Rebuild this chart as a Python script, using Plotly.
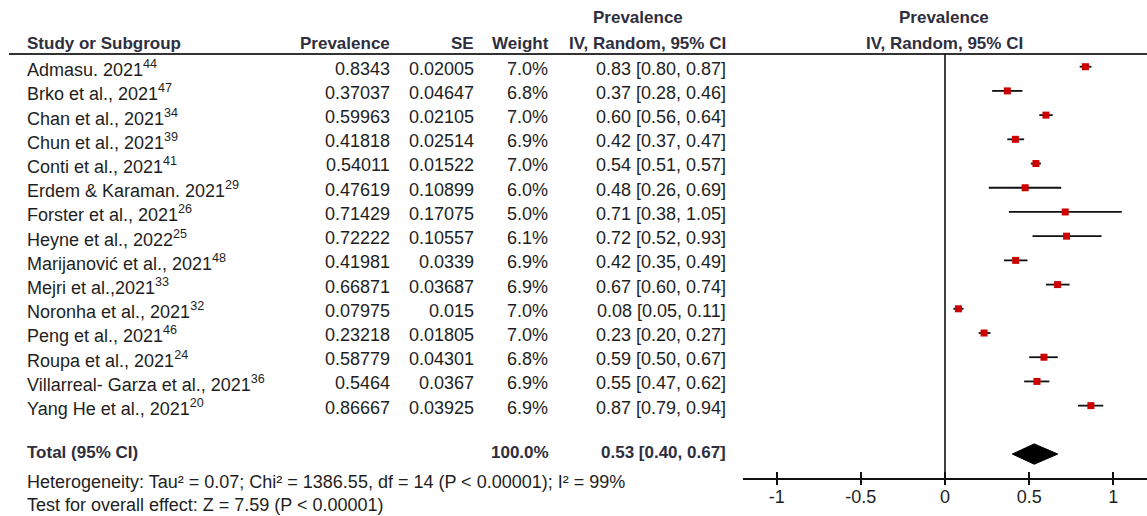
import plotly.graph_objects as go

# ---------------- data ----------------
studies = ["Admasu. 2021", "Brko et al., 2021", "Chan et al., 2021", "Chun et al., 2021",
           "Conti et al., 2021", "Erdem & Karaman. 2021", "Forster et al., 2021",
           "Heyne et al., 2022", "Marijanović et al., 2021", "Mejri et al.,2021",
           "Noronha et al., 2021", "Peng et al., 2021", "Roupa et al., 2021",
           "Villarreal- Garza et al., 2021", "Yang He et al., 2021"]
refs = ["44", "47", "34", "39", "41", "29", "26", "25", "48", "33", "32", "46", "24", "36", "20"]
prevalence = [0.8343, 0.37037, 0.59963, 0.41818, 0.54011, 0.47619, 0.71429, 0.72222,
              0.41981, 0.66871, 0.07975, 0.23218, 0.58779, 0.5464, 0.86667]
se = [0.02005, 0.04647, 0.02105, 0.02514, 0.01522, 0.10899, 0.17075, 0.10557,
      0.0339, 0.03687, 0.015, 0.01805, 0.04301, 0.0367, 0.03925]
weight = [7.0, 6.8, 7.0, 6.9, 7.0, 6.0, 5.0, 6.1, 6.9, 6.9, 7.0, 7.0, 6.8, 6.9, 6.9]
est = [0.83, 0.37, 0.60, 0.42, 0.54, 0.48, 0.71, 0.72, 0.42, 0.67, 0.08, 0.23, 0.59, 0.55, 0.87]
ci_lo = [0.80, 0.28, 0.56, 0.37, 0.51, 0.26, 0.38, 0.52, 0.35, 0.60, 0.05, 0.20, 0.50, 0.47, 0.79]
ci_hi = [0.87, 0.46, 0.64, 0.47, 0.57, 0.69, 1.05, 0.93, 0.49, 0.74, 0.11, 0.27, 0.67, 0.62, 0.94]
total_weight = 100.0
total_est, total_lo, total_hi = 0.53, 0.40, 0.67
heterogeneity = "Heterogeneity: Tau² = 0.07; Chi² = 1386.55, df = 14 (P < 0.00001); I² = 99%"
overall = "Test for overall effect: Z = 7.59 (P < 0.00001)"
tick_vals = [-1, -0.5, 0, 0.5, 1]
tick_text = ["-1", "-0.5", "0", "0.5", "1"]

# ---------------- layout constants ----------------
W, H = 1147, 516
FONT = "Liberation Sans, Arial, sans-serif"
TXT = "#1e1e1e"
HDR = "#2e2e3e"
FS = 18
n = len(studies)
total_row = n + 1
rows = list(range(n))


def px(x):
    return x / W


def py(y):
    return 1 - y / H


fig = go.Figure()

# CI whiskers
xs, ys = [], []
for i in rows:
    xs += [ci_lo[i], ci_hi[i], None]
    ys += [i, i, None]
fig.add_trace(go.Scatter(x=xs, y=ys, mode="lines", line=dict(color="#111111", width=1.8),
                         hoverinfo="skip", showlegend=False))
# point estimates
fig.add_trace(go.Scatter(x=prevalence, y=rows, mode="markers",
                         marker=dict(symbol="square", size=7, color="#cc0000",
                                     line=dict(width=0)),
                         showlegend=False))
# diamond
dh = 0.42
fig.add_trace(go.Scatter(x=[total_lo, total_est, total_hi, total_est, total_lo],
                         y=[total_row, total_row - dh, total_row, total_row + dh, total_row],
                         mode="lines", fill="toself", fillcolor="black",
                         line=dict(color="black", width=1), showlegend=False))
# dummy trace for overlay axis (crossing ticks)
fig.add_trace(go.Scatter(x=[0], y=[0], xaxis="x2", mode="markers",
                         marker=dict(opacity=0), hoverinfo="skip", showlegend=False))

ann = []


def add(text, x, y, xanchor, yref="paper", bold=False, size=FS, color=TXT):
    if bold:
        text = "<b>" + text + "</b>"
    ann.append(dict(text=text, x=x, y=y, xref="paper", yref=yref, xanchor=xanchor,
                    yanchor="middle", showarrow=False,
                    font=dict(family=FONT, size=size, color=color)))


# headers
y1, y2 = py(18), py(43)
add("Prevalence", px(638), y1, "center", bold=True, size=17, color=HDR)
add("Prevalence", px(944), y1, "center", bold=True, size=17, color=HDR)
add("Study or Subgroup", px(25), y2, "left", bold=True, size=17, color=HDR)
add("Prevalence", px(392), y2, "right", bold=True, size=17, color=HDR)
add("SE", px(476), y2, "right", bold=True, size=17, color=HDR)
add("Weight", px(551), y2, "right", bold=True, size=17, color=HDR)
add("IV, Random, 95% CI", px(728), y2, "right", bold=True, size=17, color=HDR)
add("IV, Random, 95% CI", px(944), y2, "center", bold=True, size=17, color=HDR)

# study rows
for i in rows:
    yy = i + 0.08
    add(f"{studies[i]}<sup>{refs[i]}</sup>", px(25), yy, "left", yref="y")
    add(f"{prevalence[i]}", px(392), yy, "right", yref="y")
    add(f"{se[i]}", px(476), yy, "right", yref="y")
    add(f"{weight[i]:.1f}%", px(550), yy, "right", yref="y")
    add(f"{est[i]:.2f} [{ci_lo[i]:.2f}, {ci_hi[i]:.2f}]", px(728), yy, "right", yref="y")

# total row
add("Total (95% CI)", px(25), total_row - 0.05, "left", yref="y", bold=True, size=17, color=HDR)
add(f"{total_weight:.1f}%", px(551), total_row - 0.05, "right", yref="y", bold=True, size=17, color=HDR)
add(f"{total_est:.2f} [{total_lo:.2f}, {total_hi:.2f}]", px(728), total_row - 0.05, "right",
    yref="y", bold=True, size=17, color=HDR)
add(heterogeneity, px(25), py(482), "left", size=18)
add(overall, px(25), py(505), "left", size=18)

shapes = [
    # header underline
    dict(type="line", xref="paper", yref="paper", x0=px(9), x1=1, y0=py(54), y1=py(54),
         line=dict(color="#333333", width=2)),
    # null line
    dict(type="line", xref="x", yref="paper", x0=0, x1=0, y0=py(478), y1=py(54),
         line=dict(color="#111111", width=1.6)),
]

pix_per_row = 24.21
row0 = 66.7
yr_top = -row0 / pix_per_row
yr_bot = (478 - row0) / pix_per_row

fig.update_layout(
    width=W, height=H, margin=dict(l=0, r=0, t=0, b=0),
    paper_bgcolor="white", plot_bgcolor="white",
    annotations=ann, shapes=shapes, showlegend=False,
    xaxis=dict(domain=[px(743), 1], range=[-1.2, 1.2], showgrid=False, zeroline=False,
               showline=True, linecolor="#111111", linewidth=1.6,
               ticks="outside", ticklen=5, tickwidth=1.6, tickcolor="#111111",
               tickvals=tick_vals, ticktext=tick_text, ticklabelstandoff=-3,
               tickfont=dict(family=FONT, size=18, color=TXT), fixedrange=True),
    xaxis2=dict(domain=[px(743), 1], range=[-1.2, 1.2], overlaying="x", anchor="y",
                side="bottom", showgrid=False, zeroline=False, showline=False,
                ticks="inside", ticklen=6, tickwidth=1.6, tickcolor="#111111",
                tickvals=tick_vals, showticklabels=False),
    yaxis=dict(domain=[38 / H, 1], range=[yr_bot, yr_top], showgrid=False, zeroline=False,
               showline=False, showticklabels=False, ticks="", fixedrange=True),
)

fig.write_html("out.html")
